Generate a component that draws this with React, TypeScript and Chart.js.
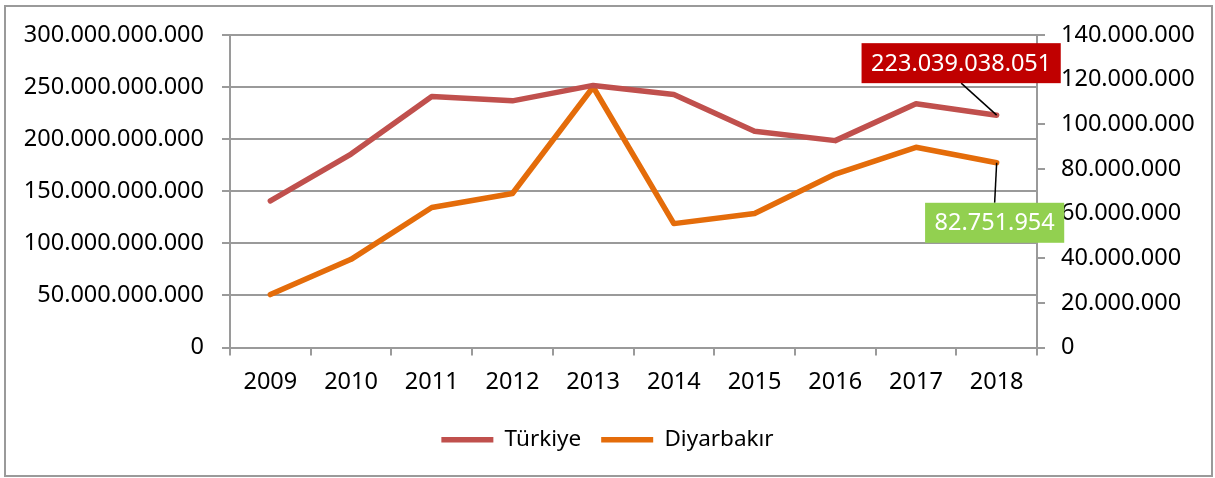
import React, { useEffect, useRef } from "react";
import { Chart, registerables } from "chart.js";

Chart.register(...registerables);

const years = ["2009", "2010", "2011", "2012", "2013", "2014", "2015", "2016", "2017", "2018"];
const turkiye = [140700000000, 185700000000, 241000000000, 236800000000, 251600000000, 242900000000, 207500000000, 198600000000, 234000000000, 223039038051];
const diyarbakir = [23700000, 39500000, 62700000, 69000000, 116700000, 55500000, 60000000, 77700000, 89700000, 82751954];
const seriesNames = ["Türkiye", "Diyarbakır"];
const leftMax = 300000000000;
const leftStep = 50000000000;
const rightMax = 140000000;
const rightStep = 20000000;

const FONT = "'Noto Sans', 'Open Sans', 'DejaVu Sans', sans-serif";
const GRID = "#9a9a9a";

function fmt(v: number): string {
  return Math.round(v).toString().replace(/\B(?=(\d{3})+(?!\d))/g, ".");
}

const calloutPlugin = {
  id: "callouts",
  afterDatasetsDraw(chart: any) {
    const ctx = chart.ctx as CanvasRenderingContext2D;
    const specs = [
      { ds: 0, bg: "#C00000", dx: -35.5, dy: -52 },
      { ds: 1, bg: "#92D050", dx: -2, dy: 60 },
    ];
    ctx.save();
    ctx.font = `23.5px ${FONT}`;
    for (const s of specs) {
      const meta = chart.getDatasetMeta(s.ds);
      const idx = meta.data.length - 1;
      const pt = meta.data[idx];
      const value = chart.data.datasets[s.ds].data[idx] as number;
      const text = fmt(value);
      const tw = ctx.measureText(text).width;
      const w = tw + 19;
      const h = 40;
      const cx = pt.x + s.dx;
      const cy = pt.y + s.dy;
      const edgeY = s.dy < 0 ? cy + h / 2 : cy - h / 2;
      ctx.strokeStyle = "#000";
      ctx.lineWidth = 1.5;
      ctx.beginPath();
      ctx.moveTo(pt.x, pt.y);
      ctx.lineTo(cx, edgeY);
      ctx.stroke();
      ctx.fillStyle = s.bg;
      ctx.fillRect(cx - w / 2, cy - h / 2, w, h);
      ctx.fillStyle = "#fff";
      ctx.textAlign = "center";
      ctx.textBaseline = "middle";
      ctx.fillText(text, cx, cy + 1);
    }
    ctx.restore();
  },
};

export default function App() {
  const ref = useRef<HTMLCanvasElement | null>(null);

  useEffect(() => {
    if (!ref.current) return;
    const chart = new Chart(ref.current, {
      type: "line",
      data: {
        labels: years,
        datasets: [
          {
            label: seriesNames[0],
            data: turkiye,
            borderColor: "#C0504D",
            backgroundColor: "#C0504D",
            borderWidth: 5.5,
            pointRadius: 0,
            borderCapStyle: "round",
            borderJoinStyle: "round",
            yAxisID: "y",
          },
          {
            label: seriesNames[1],
            data: diyarbakir,
            borderColor: "#E46C0A",
            backgroundColor: "#E46C0A",
            borderWidth: 5.5,
            pointRadius: 0,
            borderCapStyle: "round",
            borderJoinStyle: "round",
            yAxisID: "y1",
          },
        ],
      },
      options: {
        animation: false,
        responsive: false,
        maintainAspectRatio: false,
        layout: { padding: { top: 35, left: 0, right: 0, bottom: 17 } },
        plugins: {
          legend: {
            display: true,
            position: "bottom",
            labels: {
              usePointStyle: true,
              pointStyle: "line",
              pointStyleWidth: 52,
              boxHeight: 5,
              padding: 20,
              color: "#000",
              font: { family: FONT, size: 22.5 },
            },
          },
          tooltip: { enabled: false },
        },
        scales: {
          x: {
            type: "category",
            offset: true,
            grid: {
              offset: true,
              drawOnChartArea: false,
              drawTicks: true,
              tickLength: 8,
              color: GRID,
              lineWidth: 2,
            },
            border: { display: true, color: GRID, width: 2 },
            ticks: {
              color: "#000",
              font: { family: FONT, size: 23.5 },
              padding: 13,
              maxRotation: 0,
            },
            afterFit: (scale: any) => {
              scale.height = 61;
            },
          },
          y: {
            position: "left",
            min: 0,
            max: leftMax,
            grid: { color: GRID, lineWidth: 2, tickLength: 8, drawTicks: true },
            border: { display: true, color: GRID, width: 2 },
            ticks: {
              stepSize: leftStep,
              color: "#000",
              font: { family: FONT, size: 23.5 },
              padding: 18,
              callback: (v: any) => fmt(Number(v)),
            },
            afterFit: (scale: any) => {
              scale.width = 230;
            },
          },
          y1: {
            position: "right",
            min: 0,
            max: rightMax,
            grid: { drawOnChartArea: false, color: GRID, lineWidth: 2, tickLength: 8, drawTicks: true },
            border: { display: true, color: GRID, width: 2 },
            ticks: {
              stepSize: rightStep,
              color: "#000",
              font: { family: FONT, size: 23.5 },
              padding: 16,
              callback: (v: any) => fmt(Number(v)),
            },
            afterFit: (scale: any) => {
              scale.width = 178;
            },
          },
        },
      },
      plugins: [calloutPlugin],
    });
    return () => chart.destroy();
  }, []);

  return (
    <div style={{ position: "absolute", left: 0, top: 0, width: 1215, height: 478, background: "#fff" }}>
      <div
        style={{
          position: "absolute",
          left: 4,
          top: 5,
          width: 1209,
          height: 472,
          border: "2px solid #9a9a9a",
          boxSizing: "border-box",
        }}
      />
      <canvas ref={ref} width={1215} height={478} style={{ position: "absolute", left: 0, top: 0, width: 1215, height: 478 }} />
    </div>
  );
}
